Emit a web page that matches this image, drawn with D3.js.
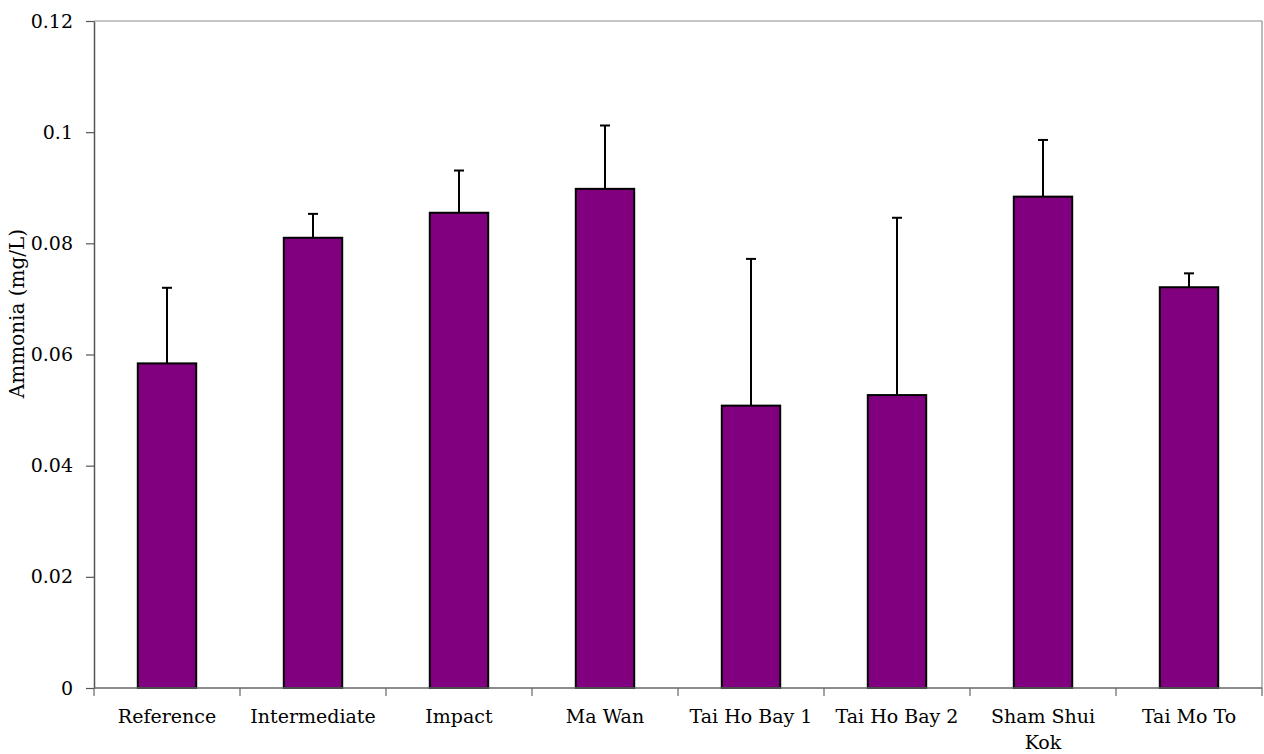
<!DOCTYPE html>
<html>
<head>
<meta charset="utf-8">
<script src="https://cdn.jsdelivr.net/npm/d3@7"></script>
<style>
  html, body { margin: 0; padding: 0; background: #fff; }
  svg { display: block; }
  text { font-family: "DejaVu Serif", serif; fill: #000; }
</style>
</head>
<body>
<svg id="chart" width="1264" height="754"></svg>
<script>
const categories = ["Reference", "Intermediate", "Impact", "Ma Wan", "Tai Ho Bay 1", "Tai Ho Bay 2", "Sham Shui Kok", "Tai Mo To"];
const tickLabelLines = [["Reference"], ["Intermediate"], ["Impact"], ["Ma Wan"], ["Tai Ho Bay 1"], ["Tai Ho Bay 2"], ["Sham Shui", "Kok"], ["Tai Mo To"]];
const meanValues = [0.0584, 0.0810, 0.0855, 0.0898, 0.0508, 0.0527, 0.0884, 0.0721];
const upperErrorValues = [0.0720, 0.0853, 0.0931, 0.1012, 0.0772, 0.0846, 0.0986, 0.0746];
const yTickValues = [0, 0.02, 0.04, 0.06, 0.08, 0.1, 0.12];
const yTickLabels = ["0", "0.02", "0.04", "0.06", "0.08", "0.1", "0.12"];
const yAxisTitle = "Ammonia (mg/L)";

(function () {
const svg = d3.select("#chart");
const mLeft = 94, mRight = 1262, mTop = 21, mBottom = 688;

const x = d3.scaleBand().domain(categories).range([mLeft, mRight]).paddingInner(0).paddingOuter(0);
const y = d3.scaleLinear().domain([0, 0.12]).range([mBottom, mTop]);
const barW = x.bandwidth() * 0.4;

// plot border (top & right)
svg.append("line").attr("x1", mLeft).attr("x2", mRight).attr("y1", mTop).attr("y2", mTop)
  .attr("stroke", "#8c8c8c").attr("stroke-width", 1.2);
svg.append("line").attr("x1", mRight).attr("x2", mRight).attr("y1", mTop).attr("y2", mBottom)
  .attr("stroke", "#8c8c8c").attr("stroke-width", 1.2);

// error bars
const g = svg.append("g");
categories.forEach((c, i) => {
  const cx = x(c) + x.bandwidth() / 2;
  g.append("line").attr("x1", cx).attr("x2", cx)
    .attr("y1", y(meanValues[i])).attr("y2", y(upperErrorValues[i]))
    .attr("stroke", "#000").attr("stroke-width", 2);
  g.append("line").attr("x1", cx - 5).attr("x2", cx + 5)
    .attr("y1", y(upperErrorValues[i])).attr("y2", y(upperErrorValues[i]))
    .attr("stroke", "#000").attr("stroke-width", 2);
});

// bars
svg.append("g").selectAll("rect").data(categories).join("rect")
  .attr("x", d => x(d) + (x.bandwidth() - barW) / 2)
  .attr("width", barW)
  .attr("y", (d, i) => y(meanValues[i]))
  .attr("height", (d, i) => y(0) - y(meanValues[i]))
  .attr("fill", "#800080")
  .attr("stroke", "#000")
  .attr("stroke-width", 2);

// y axis
const yAxis = d3.axisLeft(y).tickValues(yTickValues)
  .tickFormat((d, i) => yTickLabels[i]).tickSize(8).tickSizeOuter(0).tickPadding(13);
const ya = svg.append("g").attr("transform", `translate(${mLeft},0)`).call(yAxis);
ya.select(".domain").attr("stroke", "#555").attr("stroke-width", 1.5);
ya.selectAll(".tick line").attr("stroke", "#555").attr("stroke-width", 1.2);
ya.selectAll(".tick text").attr("font-size", 19).attr("font-family", "DejaVu Serif").attr("fill", "#000");

// x axis: ticks at band boundaries
const boundaries = categories.map(c => x(c)).concat([mRight]);
const xa = svg.append("g");
xa.append("line").attr("x1", mLeft).attr("x2", mRight).attr("y1", mBottom).attr("y2", mBottom)
  .attr("stroke", "#666").attr("stroke-width", 1.5);
xa.selectAll("line.tk").data(boundaries).join("line").attr("class", "tk")
  .attr("x1", d => d).attr("x2", d => d).attr("y1", mBottom).attr("y2", mBottom + 8)
  .attr("stroke", "#666").attr("stroke-width", 1.2);
categories.forEach((c, i) => {
  const cx = x(c) + x.bandwidth() / 2;
  const t = xa.append("text").attr("x", cx).attr("y", 723)
    .attr("text-anchor", "middle").attr("font-size", 19);
  tickLabelLines[i].forEach((line, j) => {
    t.append("tspan").attr("x", cx).attr("dy", j === 0 ? 0 : 26).text(line);
  });
});

// y title
svg.append("text")
  .attr("transform", `translate(24,${(mTop + mBottom) / 2 - 41}) rotate(-90)`)
  .attr("text-anchor", "middle").attr("font-size", 20)
  .text(yAxisTitle);
})();
</script>
</body>
</html>
